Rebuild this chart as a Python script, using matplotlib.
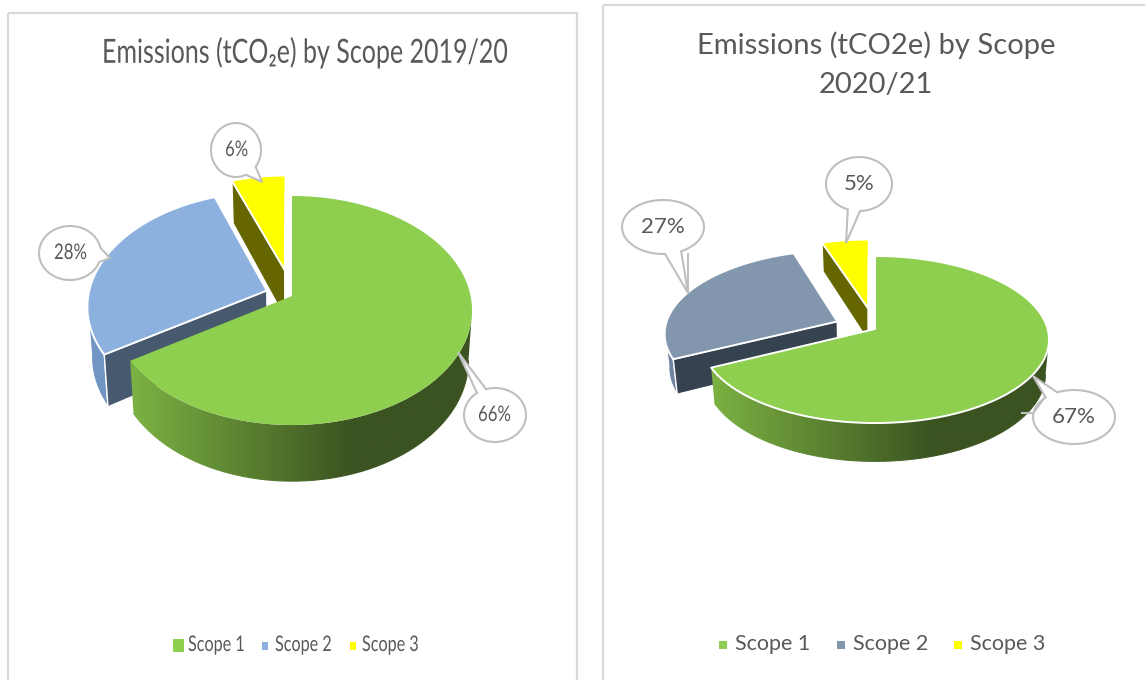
import numpy as np
import matplotlib
matplotlib.use("Agg")
import matplotlib.pyplot as plt
from matplotlib.patches import Polygon, Rectangle
from matplotlib.collections import LineCollection
from matplotlib.colors import to_rgb
from matplotlib.patheffects import AbstractPathEffect
from matplotlib.transforms import Affine2D

scopes = ["Scope 1", "Scope 2", "Scope 3"]
share_1920 = [66.0, 28.4, 5.6]
share_2021 = [67, 27, 5]
title_1920 = "Emissions (tCO\u2082e) by Scope 2019/20"
title_2021 = "Emissions (tCO2e) by Scope\n2020/21"

GREY = "#595959"
EDGE = "#BFBFBF"
FONT = ["Lato", "DejaVu Sans"]
SHRINK = 0.98

fig = plt.figure(figsize=(11.45, 6.80), dpi=100)
ax = fig.add_axes([0, 0, 1, 1])


class Squeeze(AbstractPathEffect):
    """Condense a text horizontally from its start point."""

    def __init__(self, sx):
        super().__init__()
        self.sx = sx

    def draw_path(self, renderer, gc, tpath, affine, rgbFace=None):
        renderer.draw_path(gc, tpath, Affine2D().scale(self.sx, 1) + affine, rgbFace)


def narrow_text(x, y, s, size, sx, z=9):
    ax.text(x, y, s, ha="left", va="center", fontsize=size, color=GREY, family=FONT, zorder=z,
            path_effects=[Squeeze(sx)])


def project(g, u, v):
    w = 1 + g["k"] * v
    return g["ax"] + g["rx"] * u / w, g["ay"] - g["s"] * v / w, w


def slice3d(g, a0, a1, explode, top, cut, rim, edge, z, near_face=True, gradient=None):
    off = np.radians((a0 + a1) / 2)
    ou, ov = explode * np.sin(off), explode * np.cos(off)
    t = np.radians(np.linspace(a0, a1, 240))
    x, y, w = project(g, ou + np.sin(t), ov + np.cos(t))
    ax0, ay0, w0 = project(g, ou, ov)
    ay0b = ay0 + g["d"] / w0
    ax0b = g["ax"] + (ax0 - g["ax"]) * SHRINK
    xb = g["ax"] + (x - g["ax"]) * SHRINK
    yb = y + g["d"] / w
    # outer wall: only the part that faces the viewer
    deg = np.degrees(t)
    front = (deg >= 97) & (deg <= 263)
    if front.any():
        fx, fy, fxb, fyb = x[front], y[front], xb[front], yb[front]
        poly = np.vstack([np.column_stack([fx, fy]), np.column_stack([fxb, fyb])[::-1]])
        if gradient:
            gx = np.linspace(poly[:, 0].min() - 1, poly[:, 0].max() + 1, 500)
            c0, c1 = np.array(to_rgb(gradient[2])), np.array(to_rgb(gradient[3]))
            f = np.clip((gx - gradient[0]) / (gradient[1] - gradient[0]), 0, 1)[:, None]
            img = (c0 + (c1 - c0) * f)[None, :, :]
            im = ax.imshow(img, extent=(gx[0], gx[-1], poly[:, 1].max() + 1, poly[:, 1].min() - 1),
                           aspect="auto", zorder=z + 0.1, interpolation="bilinear")
            im.set_clip_path(Polygon(poly, transform=ax.transData))
            segs = np.stack([np.column_stack([fxb[:-1], fyb[:-1]]), np.column_stack([fxb[1:], fyb[1:]])], axis=1)
            fm = np.clip((fxb[:-1] - gradient[0]) / (gradient[1] - gradient[0]), 0, 1)[:, None]
            ax.add_collection(LineCollection(segs, colors=c0 + (c1 - c0) * fm, linewidths=0.8, zorder=z + 0.15))
        else:
            ax.add_patch(Polygon(poly, fc=rim, ec="white" if edge else "none", lw=0.8, zorder=z + 0.1))
    if near_face:
        ax.add_patch(Polygon([(ax0, ay0), (x[0], y[0]), (xb[0], yb[0]), (ax0b, ay0b)], fc=cut,
                             ec="white" if edge else "none", lw=1.0, zorder=z + 0.2))
    ax.add_patch(Polygon(np.column_stack([np.r_[ax0, x], np.r_[ay0, y]]), fc=top,
                         ec="white" if edge else "none", lw=1.4, joinstyle="round", zorder=z + 0.3))


def pie(g, shares, explode, styles, gradient, green_edge):
    fr = np.array(shares, float) / sum(shares) * 360
    bounds = np.r_[0, np.cumsum(fr)]
    for i, z in ((1, 3), (2, 4), (0, 5)):
        st = styles[i]
        slice3d(g, bounds[i], bounds[i + 1], explode[i], st[0], st[1], st[2],
                green_edge if i == 0 else True, z, near_face=i != 0,
                gradient=gradient if i == 0 else None)


def callout(cx, cy, rx, ry, tip, b0, b1, extra=()):
    a0 = np.arctan2((b0[1] - cy) / ry, (b0[0] - cx) / rx)
    a1 = np.arctan2((b1[1] - cy) / ry, (b1[0] - cx) / rx)
    # the long way round the ellipse, leaving the tail opening free
    d = (a1 - a0) % (2 * np.pi)
    if d < np.pi:
        th = np.linspace(a1, a0 + 2 * np.pi, 90)
    else:
        th = np.linspace(a0, a1 + 0, 90) if a1 > a0 else np.linspace(a0, a1 + 2 * np.pi, 90)
    pts = np.column_stack([cx + rx * np.cos(th), cy + ry * np.sin(th)])
    ax.add_patch(Polygon(np.vstack([pts, tip]), closed=True, fc="white", ec=EDGE, lw=1.5, zorder=8))
    for seg in extra:
        ax.plot(*zip(*seg), color=EDGE, lw=1.5, zorder=8, solid_capstyle="butt")


# panel frames
ax.add_patch(Rectangle((8, 13), 569, 700, fc="none", ec="#D9D9D9", lw=1.6, zorder=1))
ax.add_patch(Rectangle((603, 5), 600, 700, fc="none", ec="#D9D9D9", lw=1.6, zorder=1))

# --- left panel
narrow_text(102, 53, title_1920, 24, 0.75, z=2)
g1 = dict(ax=292, ay=296, rx=178.6, s=112.7, k=0.1266, d=49)
st1 = [("#8FCF50", "#8FCF50", "#8FCF50"), ("#8DB1DF", "#46596F", "#7296C4"), ("#FFFF00", "#666600", "#666600")]
pie(g1, share_1920, [0, 0.15, 0.24], st1, (131, 353, "#7CB243", "#3B5320"), False)
callout(495, 415, 31, 27, (458, 352), (486, 389), (477, 393))
callout(70, 253, 31, 27, (110, 258), (99, 262), (100, 248))
callout(236, 150, 25, 27, (262, 182), (246, 175), (256, 167))
narrow_text(478, 415, f"{share_1920[0]:.0f}%", 15.5, 0.78)
narrow_text(54, 253, f"{share_1920[1]:.0f}%", 15.5, 0.78)
narrow_text(225, 150, f"{share_1920[2]:.0f}%", 15.5, 0.78)

for x0, w, h, x1, c, name in zip([173, 262, 350], [11, 6, 6], [13, 8, 8], [188, 275, 362],
                                 ["#8FCF50", "#8DB1DF", "#FFFF00"], scopes):
    ax.add_patch(Rectangle((x0, 645.5 - h / 2), w, h, fc=c, ec="none", zorder=5))
    narrow_text(x1, 645, name, 15.5, 0.75)

# --- right panel
ax.text(876, 65, title_2021, ha="center", va="center", fontsize=21, color=GREY, family=FONT, linespacing=1.62)
g2 = dict(ax=875, ay=329, rx=172.6, s=82.2, k=0.126, d=33.5)
st2 = [("#8FCF50", "#8FCF50", "#8FCF50"), ("#8296AE", "#36424F", "#6F83A0"), ("#FFFF00", "#666600", "#666600")]
pie(g2, share_2021, [0, 0.24, 0.265], st2, (710, 933, "#7CB243", "#3B5320"), True)
callout(1074, 417, 41, 27, (1033, 376), (1057, 392), (1045, 397),
        extra=[[(1045, 397), (1034, 412)], [(1034, 413), (1021, 413)]])
callout(663, 227, 41, 27, (688, 293), (665, 253), (681, 251), extra=[[(688, 253), (688, 293)]])
callout(859, 184, 33, 27, (846, 243), (848, 209), (860, 210))
for (cx, cy), v in zip([(1074, 417), (663, 227), (859, 184)], share_2021):
    ax.text(cx, cy, f"{v}%", ha="center", va="center", fontsize=16, color=GREY, family=FONT, zorder=9)

for x0, x1, c, name in zip([719, 837, 954], [735, 853, 970], ["#8FCF50", "#8296AE", "#FFFF00"], scopes):
    ax.add_patch(Rectangle((x0, 641), 8, 8, fc=c, ec="none", zorder=5))
    ax.text(x1, 644, name, ha="left", va="center", fontsize=15.5, color=GREY, family=FONT)

ax.set_xlim(0, 1145)
ax.set_ylim(680, 0)
ax.axis("off")
fig.savefig("out.png", dpi=100, facecolor="white")
